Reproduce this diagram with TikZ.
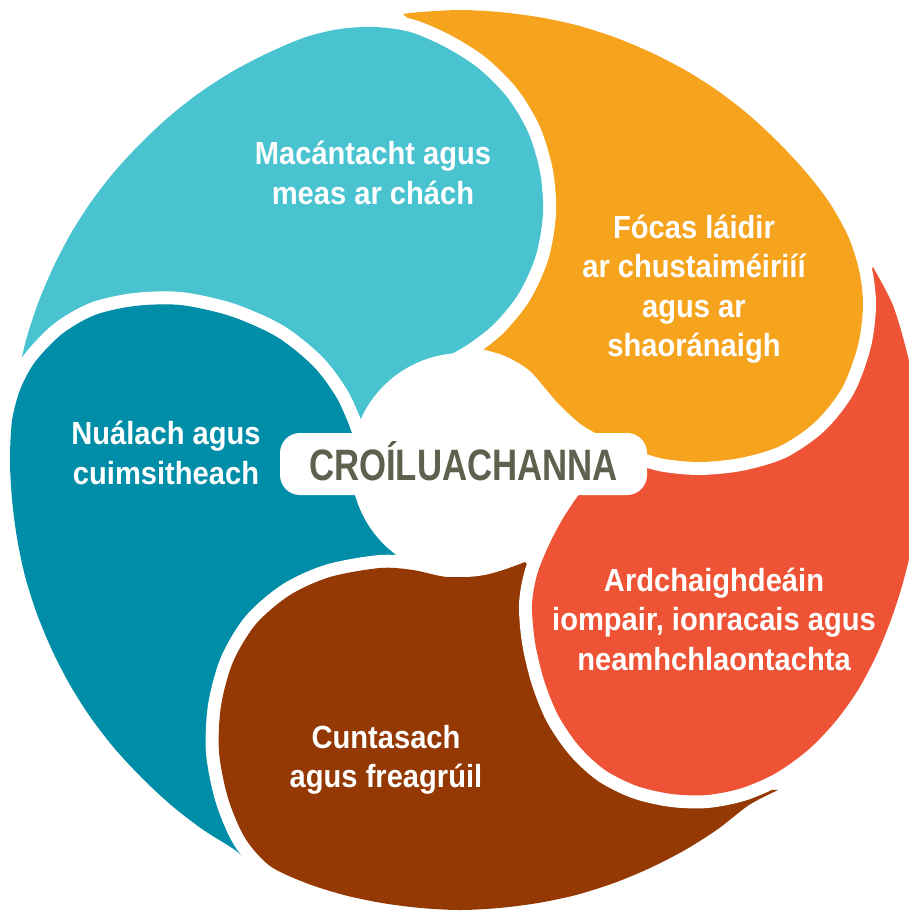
\documentclass[tikz,border=0pt]{standalone}
\usepackage{fontspec}
\setmainfont{Liberation Sans}
\newfontfamily\valuefont[FakeStretch=0.91]{Liberation Sans}
\newfontfamily\corefont[FakeStretch=0.79]{Liberation Sans}

\definecolor{skycol}{RGB}{73,195,208}
\definecolor{tealcol}{RGB}{0,141,168}
\definecolor{browncol}{RGB}{148,57,3}
\definecolor{redcol}{RGB}{239,83,53}
\definecolor{orangecol}{RGB}{246,163,30}
\definecolor{corecol}{RGB}{96,96,78}

\newcommand{\skypetal}{plot[smooth] coordinates {(16,387) (25,344) (37,306) (52,270) (70,235)
    (91,202) (115,171) (142,142) (171,115) (202,91) (235,70) (270,52) (306,37) (340,29) (375,27)
    (410,32) (445,47) (478,68) (507,97) (528,132) (540,172) (543,213) (536,255) (519,293)
    (495,323) (470,343) (448,356)}
  -- (440,420) -- (360,445) -- (300,400) -- (180,360) -- (80,372) -- cycle}

\begin{document}
\begin{tikzpicture}[x=1pt, y=-1pt,
    petal/.style={fill=#1, preaction={draw=white, line width=26pt, line join=round}},
    value/.style={text=white, align=center, font=\valuefont\bfseries\fontsize{32}{39.5}\selectfont}]

  \useasboundingbox (0,0) rectangle (909,912);
  \clip (0,0) rectangle (909,912);

  \path[petal=skycol] \skypetal;

  \path[petal=tealcol] plot[smooth] coordinates {(252,865) (235,850) (202,829) (171,805)
      (142,778) (115,749) (91,718) (70,685) (52,650) (37,614) (25,576) (17,538) (12,499)
      (10,460) (12,421) (20,390) (35,362) (62,334) (95,315) (135,306) (180,305) (230,316)
      (277,337) (313,366) (335,395) (347,420) (356,445)}
    -- (430,480) -- (395,575) -- (320,600) -- (270,650) -- (245,720) -- (245,800) -- cycle;

  \path[petal=browncol] plot[smooth] coordinates {(778,790) (749,805) (718,829) (685,850)
      (650,868) (614,883) (576,895) (538,903) (499,908) (460,910) (421,908) (382,903) (344,895)
      (306,883) (270,866) (245,838) (228,798) (219,752) (221,706) (233,662) (256,624) (290,595)
      (330,577) (380,568) (413,570) (447,577) (480,575) (503,570) (525,562)}
    -- (545,585) -- (550,650) -- (600,752) -- (700,786) -- cycle;

  \path[petal=redcol] plot[smooth] coordinates {(873,267) (892,303) (904,341) (913,380)
      (918,420) (920,460) (918,500) (913,540) (904,579) (892,617) (877,654) (858,690) (835,722)
      (808,750) (776,773) (742,788) (707,795) (672,794) (637,786) (605,770) (579,746) (558,715)
      (544,680) (535,642) (532,605) (537,575) (548,547) (562,520) (577,497)}
    -- (590,482) -- (620,470) -- (700,453) -- (790,428) -- (838,372) -- (853,305) -- cycle;

  \path[petal=orangecol] plot[smooth] coordinates {(403,14) (421,12) (460,10) (499,12) (538,17)
      (576,25) (614,37) (650,52) (685,70) (718,91) (749,115) (778,142) (805,171) (829,202)
      (848,236) (859,270) (863,305) (858,345) (842,388) (815,422) (780,446) (740,458) (700,462)
      (665,459) (640,452) (615,443) (597,434) (578,422) (555,400) (530,371) (505,356) (478,348)}
    -- (500,300) -- (525,230) -- (522,150) -- (470,75) -- cycle;

  \begin{scope}
    \clip (380,0) rectangle (620,400);
    \path[petal=skycol] \skypetal;
  \end{scope}

  \fill[white] (463,465) circle[radius=112pt];

  \node[fill=white, rounded corners=20pt, inner sep=0pt, minimum width=367pt,
    minimum height=62pt] (label) at (463.5,464) {};
  \node[text=corecol, font=\corefont\bfseries\fontsize{44}{48}\selectfont,
    text height=32pt, text depth=0pt, inner sep=0pt] (core) at (label.center) {CROÍLUACHANNA};

  \node[value] (honesty) at (373,173) {Macántacht agus\\meas ar chách};
  \node[value] (customers) at (694,289) {Fócas láidir\\ar chustaiméiriíí\\agus ar\\shaoránaigh};
  \node[value] (innovative) at (166,453) {Nuálach agus\\cuimsitheach};
  \node[value] (standards) at (714,619) {Ardchaighdeáin\\iompair, ionracais agus\\neamhchlaontachta};
  \node[value] (accountable) at (386,760) {Cuntasach\\agus freagrúil};
\end{tikzpicture}
\end{document}
